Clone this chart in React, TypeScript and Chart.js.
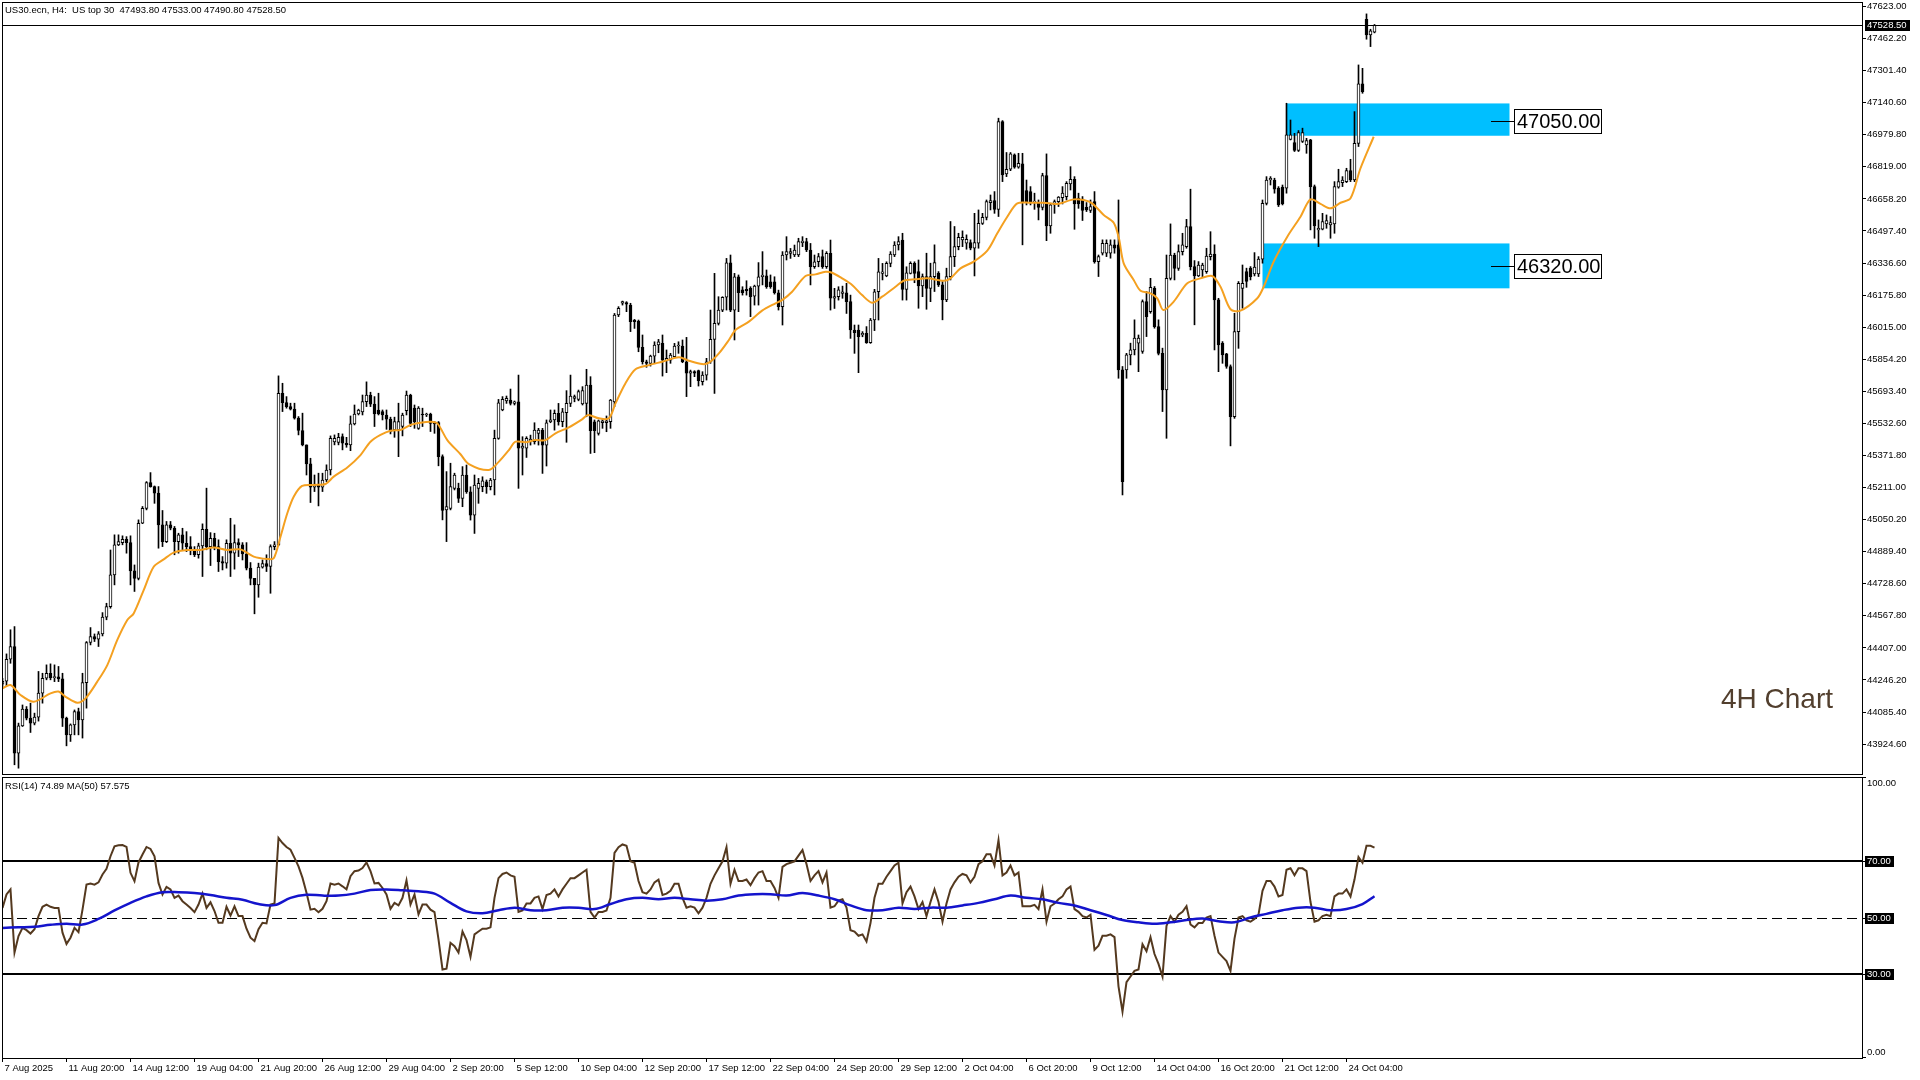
import React, { useEffect, useRef } from 'react';
import { Chart, registerables } from 'chart.js';

Chart.register(...registerables);

const FONT = 'Liberation Sans';

// ---------- price data (H4 candles, US30) ----------
const opens = [
  44225, 44240, 44350, 44414, 43879, 44016, 44100, 44055, 44030, 44060,
  44180, 44255, 44280, 44258, 44262, 44252, 44055, 43971, 44021, 44088,
  44046, 44233, 44434, 44464, 44451, 44477, 44561, 44614, 44773, 44924,
  44935, 44952, 44935, 44793, 44756, 45032, 45107, 45236, 45216, 45183,
  45024, 44940, 45024, 45007, 44940, 44974, 44932, 44915, 44895, 44874,
  44919, 45002, 44915, 44957, 44915, 44840, 44832, 44932, 44882, 44935,
  44924, 44878, 44807, 44756, 44723, 44812, 44830, 44815, 44915, 44924,
  45684, 45637, 45617, 45604, 45559, 45497, 45425, 45330, 45213, 45229,
  45213, 45249, 45299, 45440, 45437, 45467, 45433, 45425, 45530, 45580,
  45590, 45642, 45675, 45629, 45600, 45592, 45575, 45554, 45500, 45500,
  45517, 45597, 45675, 45609, 45508, 45579, 45575, 45580, 45537, 45537,
  45366, 45099, 45107, 45207, 45207, 45157, 45274, 45190, 45073, 45207,
  45215, 45240, 45215, 45249, 45458, 45600, 45646, 45650, 45633, 45641,
  45408, 45408, 45441, 45441, 45483, 45499, 45424, 45541, 45550, 45583,
  45541, 45586, 45633, 45658, 45653, 45630, 45633, 45725, 45541, 45483,
  45536, 45536, 45541, 45641, 46076, 46135, 46138, 46126, 46051, 46046,
  45914, 45842, 45834, 45870, 45926, 45934, 45847, 45850, 45867, 45921,
  45921, 45842, 45784, 45792, 45797, 45742, 45775, 45842, 45954, 46034,
  46101, 46165, 46338, 46101, 46268, 46202, 46205, 46210, 46171, 46221,
  46268, 46272, 46243, 46243, 46188, 46118, 46377, 46385, 46377, 46377,
  46439, 46444, 46402, 46318, 46343, 46369, 46318, 46385, 46160, 46168,
  46185, 46188, 46143, 46001, 46001, 45976, 45984, 45937, 46051, 46193,
  46285, 46272, 46335, 46377, 46427, 46452, 46205, 46285, 46335, 46294,
  46222, 46269, 46210, 46269, 46286, 46227, 46152, 46269, 46369, 46419,
  46453, 46436, 46439, 46411, 46436, 46536, 46566, 46640, 46650, 46606,
  47046, 46784, 46807, 46879, 46817, 46834, 46700, 46695, 46641, 46641,
  46616, 46775, 46523, 46628, 46645, 46665, 46670, 46733, 46757, 46662,
  46657, 46616, 46600, 46645, 46344, 46386, 46386, 46386, 46428, 46428,
  45801, 45801, 45876, 45901, 45935, 45893, 46143, 46093, 46210, 46018,
  45884, 45701, 46260, 46377, 46310, 46394, 46419, 46520, 46319, 46272,
  46302, 46294, 46369, 46382, 46152, 45935, 45881, 45818, 45567, 45993,
  46210, 46294, 46311, 46282, 46282, 46356, 46636, 46753, 46753, 46712,
  46717, 46712, 46957, 46941, 46901, 46946, 46929, 46954, 46720, 46503,
  46506, 46533, 46528, 46533, 46717, 46740, 46745, 46800, 46753, 46937,
  47235, 47559, 47481, 47493.8,
];
const highs = [
  44255, 44377, 44498, 44514, 44030, 44121, 44113, 44130, 44080, 44289,
  44280, 44322, 44327, 44322, 44314, 44280, 44060, 44026, 44096, 44105,
  44280, 44439, 44509, 44477, 44489, 44584, 44631, 44898, 44974, 44974,
  44969, 44965, 44969, 44823, 45049, 45116, 45241, 45286, 45219, 45216,
  45096, 45041, 45041, 45016, 44982, 45007, 44990, 44965, 44915, 44932,
  45029, 45208, 44985, 44982, 44949, 44865, 44949, 45057, 45024, 44954,
  44935, 44935, 44835, 44756, 44832, 44848, 44874, 44924, 44940, 45771,
  45734, 45667, 45634, 45634, 45567, 45584, 45425, 45358, 45274, 45283,
  45283, 45325, 45470, 45475, 45483, 45480, 45463, 45570, 45625, 45604,
  45675, 45741, 45689, 45667, 45684, 45600, 45600, 45564, 45564, 45634,
  45584, 45695, 45679, 45625, 45617, 45609, 45584, 45584, 45542, 45542,
  45375, 45291, 45333, 45283, 45233, 45316, 45324, 45215, 45274, 45257,
  45265, 45249, 45257, 45499, 45653, 45667, 45670, 45705, 45645, 45775,
  45466, 45466, 45474, 45536, 45508, 45508, 45550, 45600, 45600, 45633,
  45608, 45697, 45775, 45675, 45700, 45717, 45804, 45767, 45550, 45550,
  45558, 45570, 45653, 46084, 46118, 46146, 46143, 46135, 46054, 46051,
  45976, 45850, 45875, 45942, 45954, 45976, 45901, 45884, 45934, 45942,
  45951, 45964, 45800, 45797, 45800, 45792, 45859, 46101, 46285, 46168,
  46168, 46360, 46377, 46285, 46277, 46218, 46248, 46218, 46226, 46339,
  46394, 46302, 46277, 46268, 46201, 46394, 46469, 46410, 46427, 46461,
  46469, 46461, 46435, 46377, 46385, 46402, 46394, 46452, 46210, 46218,
  46221, 46235, 46176, 46026, 46026, 45993, 46018, 46059, 46205, 46360,
  46335, 46343, 46394, 46444, 46469, 46486, 46318, 46343, 46343, 46352,
  46282, 46386, 46336, 46428, 46294, 46244, 46311, 46545, 46520, 46486,
  46498, 46478, 46453, 46586, 46603, 46586, 46653, 46678, 46695, 47063,
  47051, 46891, 46891, 46884, 46887, 46887, 46753, 46720, 46687, 46653,
  46787, 46884, 46637, 46653, 46670, 46720, 46745, 46820, 46770, 46687,
  46670, 46640, 46653, 46695, 46377, 46453, 46453, 46453, 46453, 46653,
  45818, 45884, 45935, 46052, 45976, 46152, 46194, 46260, 46219, 46052,
  45910, 46377, 46533, 46386, 46428, 46486, 46556, 46707, 46349, 46344,
  46336, 46411, 46494, 46428, 46160, 45943, 45884, 45826, 46085, 46244,
  46327, 46311, 46319, 46389, 46369, 46653, 46770, 46770, 46762, 46720,
  46728, 47138, 47054, 46987, 47001, 47013, 46962, 46957, 46728, 46553,
  46586, 46578, 46570, 46745, 46807, 46770, 46812, 46857, 47096, 47330,
  47313, 47586, 47509, 47533,
];
const lows = [
  44210, 44217, 44330, 43821, 43804, 44013, 44046, 43983, 44021, 44040,
  44130, 44247, 44247, 44238, 44238, 44013, 43916, 43938, 43971, 43971,
  43955, 44105, 44422, 44439, 44414, 44467, 44548, 44606, 44723, 44920,
  44924, 44882, 44723, 44690, 44748, 45030, 45099, 45213, 45132, 44907,
  44915, 44935, 44999, 44874, 44882, 44899, 44890, 44874, 44865, 44857,
  44765, 44899, 44820, 44899, 44790, 44798, 44807, 44765, 44802, 44865,
  44848, 44798, 44723, 44578, 44661, 44807, 44790, 44681, 44899, 44919,
  45592, 45609, 45600, 45554, 45475, 45420, 45274, 45136, 45191, 45119,
  45191, 45241, 45274, 45425, 45425, 45400, 45413, 45396, 45525, 45575,
  45575, 45617, 45617, 45517, 45575, 45550, 45503, 45480, 45463, 45366,
  45470, 45575, 45517, 45508, 45503, 45517, 45567, 45492, 45483, 45320,
  45049, 44940, 45099, 45199, 45136, 45115, 45182, 45048, 44981, 45132,
  45190, 45182, 45199, 45174, 45453, 45596, 45633, 45625, 45625, 45207,
  45274, 45362, 45424, 45429, 45424, 45282, 45319, 45536, 45499, 45524,
  45516, 45438, 45617, 45641, 45646, 45625, 45566, 45382, 45386, 45474,
  45508, 45491, 45508, 45617, 46068, 46126, 46093, 45993, 46009, 45892,
  45830, 45814, 45820, 45834, 45887, 45770, 45787, 45834, 45867, 45884,
  45837, 45667, 45717, 45767, 45720, 45725, 45750, 45834, 45683, 46026,
  46093, 46101, 46093, 45951, 46093, 46176, 46176, 46068, 46126, 46126,
  46227, 46210, 46210, 46181, 46101, 46026, 46352, 46360, 46369, 46369,
  46419, 46394, 46227, 46310, 46318, 46310, 46310, 46101, 46109, 46151,
  46160, 46084, 45959, 45884, 45787, 45967, 45934, 45934, 45998, 46051,
  46252, 46268, 46318, 46369, 46402, 46151, 46151, 46282, 46238, 46110,
  46168, 46105, 46143, 46194, 46219, 46052, 46143, 46252, 46319, 46403,
  46419, 46406, 46403, 46272, 46411, 46530, 46553, 46603, 46586, 46570,
  46745, 46770, 46800, 46812, 46812, 46428, 46628, 46628, 46606, 46553,
  46603, 46449, 46486, 46586, 46620, 46633, 46653, 46703, 46506, 46611,
  46550, 46595, 46590, 46336, 46269, 46377, 46369, 46361, 46386, 45759,
  45174, 45759, 45826, 45876, 45792, 45884, 45968, 46085, 46010, 45876,
  45592, 45458, 46252, 46252, 46300, 46377, 46411, 46302, 46027, 46269,
  46265, 46285, 46352, 45901, 45792, 45834, 45809, 45420, 45558, 45909,
  46110, 46215, 46252, 46272, 46269, 46336, 46628, 46728, 46687, 46620,
  46628, 46687, 46954, 46896, 46896, 46941, 46887, 46503, 46461, 46419,
  46503, 46511, 46461, 46486, 46712, 46720, 46740, 46745, 46745, 46921,
  47188, 47459, 47422, 47490.8,
];
const closes = [
  44240, 44350, 44414, 43879, 44016, 44100, 44055, 44030, 44060, 44180,
  44255, 44280, 44258, 44262, 44252, 44055, 43971, 44021, 44088, 44046,
  44233, 44434, 44464, 44451, 44477, 44561, 44614, 44773, 44924, 44940,
  44952, 44935, 44793, 44756, 45032, 45107, 45236, 45216, 45183, 45024,
  44940, 45024, 45007, 44940, 44974, 44932, 44915, 44895, 44874, 44919,
  45002, 44915, 44957, 44915, 44840, 44832, 44932, 44882, 44935, 44924,
  44878, 44807, 44756, 44723, 44812, 44830, 44815, 44915, 44924, 45684,
  45637, 45617, 45604, 45559, 45497, 45425, 45330, 45213, 45229, 45213,
  45249, 45299, 45458, 45458, 45463, 45433, 45425, 45530, 45580, 45600,
  45642, 45675, 45629, 45580, 45580, 45575, 45554, 45492, 45542, 45542,
  45575, 45675, 45533, 45542, 45609, 45575, 45576, 45533, 45530, 45366,
  45096, 45116, 45216, 45274, 45157, 45274, 45190, 45073, 45224, 45232,
  45245, 45215, 45249, 45458, 45636, 45653, 45658, 45633, 45641, 45408,
  45419, 45458, 45454, 45499, 45499, 45424, 45536, 45550, 45583, 45541,
  45591, 45633, 45670, 45667, 45692, 45697, 45725, 45496, 45496, 45546,
  45546, 45546, 45650, 46076, 46110, 46143, 46130, 46043, 46043, 45914,
  45842, 45834, 45870, 45926, 45942, 45850, 45859, 45875, 45921, 45926,
  45842, 45784, 45792, 45784, 45747, 45775, 45842, 45954, 46034, 46101,
  46165, 46338, 46101, 46268, 46188, 46188, 46198, 46168, 46221, 46268,
  46277, 46218, 46218, 46188, 46118, 46377, 46394, 46394, 46402, 46444,
  46447, 46402, 46318, 46343, 46369, 46318, 46385, 46160, 46168, 46202,
  46193, 46143, 46001, 45988, 45967, 45984, 45937, 46051, 46193, 46293,
  46293, 46335, 46382, 46427, 46444, 46205, 46288, 46335, 46285, 46222,
  46269, 46210, 46269, 46339, 46227, 46152, 46269, 46369, 46419, 46466,
  46466, 46456, 46411, 46439, 46536, 46566, 46645, 46650, 46606, 47046,
  46779, 46807, 46884, 46817, 46837, 46645, 46645, 46645, 46648, 46616,
  46775, 46523, 46628, 46645, 46667, 46687, 46737, 46757, 46633, 46633,
  46600, 46603, 46620, 46344, 46369, 46436, 46436, 46428, 46411, 45801,
  45241, 45876, 45901, 45960, 45960, 46143, 46068, 46215, 46018, 45884,
  45701, 46260, 46377, 46310, 46394, 46428, 46520, 46319, 46272, 46327,
  46327, 46372, 46382, 46152, 45926, 45876, 45818, 45567, 45993, 46235,
  46235, 46244, 46269, 46316, 46356, 46636, 46753, 46762, 46707, 46628,
  46633, 46979, 46979, 46901, 46991, 46991, 46951, 46720, 46523, 46511,
  46545, 46550, 46540, 46720, 46745, 46753, 46800, 46753, 46937, 47235,
  47196, 47481, 47501, 47528.5,
];

// ---------- moving average on price ----------
const maBars = [
  0, 2, 4.5, 7.8, 12, 14, 16, 18.7, 20.75, 23.7, 26.2, 28.7, 31.2, 32.8, 35.3, 37.8,
  40.3, 42.8, 46.2, 49.5, 52.8, 56.2, 59.5, 62.8, 66.2, 67.8, 69.5, 71.2, 72.8, 74.9,
  77.8, 80.75, 82.8, 86.2, 89.5, 92, 94.5, 97, 99.5, 102, 104.5, 107, 108.7, 111.2,
  114.5, 116.6, 121.6, 124.1, 126.6, 128.25, 130.75, 133.25, 135.75, 138.25, 141.6,
  144.9, 146.4, 149.1, 151.6, 153.25, 155.75, 158.25, 161.6, 164.9, 169.1, 171.6,
  174.9, 176.6, 179.1, 181.6, 183.25, 186.6, 189.9, 193.25, 194.9, 197.4, 200.75,
  203.25, 205.75, 207.4, 209.9, 212.4, 214.9, 217.4, 219.9, 223.25, 225.3, 228.25,
  231.2, 235.3, 237, 239.5, 242.8, 246.2, 248.7, 251.2, 253.7, 257, 260.3, 263.7,
  267.8, 270.3, 272.4, 275.3, 277.8, 279.1, 280.3, 282.8, 284.5, 287, 288.7, 290.2,
  292.8, 296.2, 299.5, 302.4, 304.5, 307, 309.5, 313.7, 315.3, 317.8, 321.2, 324.5,
  327, 329.5, 332, 334.5, 337, 339.5, 342.8,
];
const maValues = [
  44204, 44221, 44171, 44137, 44179, 44188, 44159, 44132, 44154, 44238, 44321, 44447, 44547, 44580, 44697, 44814,
  44851, 44885, 44898, 44898, 44911, 44898, 44901, 44865, 44853, 44856, 44965, 45082, 45165, 45219,
  45224, 45229, 45266, 45312, 45374, 45441, 45475, 45496, 45500, 45525, 45536, 45541, 45533, 45449,
  45378, 45329, 45299, 45341, 45399, 45441, 45438, 45449, 45449, 45483, 45513,
  45553, 45575, 45558, 45558, 45633, 45734, 45804, 45825, 45842, 45864, 45847,
  45830, 45837, 45884, 45951, 46001, 46043, 46098, 46135, 46151, 46193, 46272,
  46280, 46293, 46288, 46260, 46227, 46176, 46138, 46168, 46218, 46248, 46255,
  46260, 46248, 46260, 46310, 46344, 46399, 46486, 46569, 46636, 46639, 46639, 46633,
  46656, 46653, 46636, 46578, 46539, 46461, 46335, 46252, 46198, 46185, 46160, 46101,
  46143, 46235, 46260, 46272, 46218, 46105, 46098, 46160, 46218, 46344, 46469, 46569,
  46656, 46633, 46611, 46639, 46661, 46812, 46970,
];

// ---------- RSI(14) and its MA(50) ----------
const rsiValues = [
  53.4, 58.2, 60, 37.5, 43.4, 46.3, 45.5, 44.3, 45.8, 50.5,
  53.8, 54.6, 53.8, 53.4, 53.4, 44.6, 40.6, 42.8, 46.3, 44.8,
  52.8, 61.7, 62.1, 61.7, 62.5, 65.3, 67.3, 71.8, 75.3, 75.7,
  75.8, 75.1, 65.9, 62.9, 69.6, 72.4, 75.1, 74.4, 71.8, 62.3,
  58.2, 60.9, 60, 57, 57.8, 55.8, 54.6, 53.4, 51.9, 54.6,
  58.5, 53.4, 55.4, 52.3, 48.1, 48.1, 53.8, 50.7, 54, 50.5,
  50.5, 46, 42.8, 41.6, 45.8, 48.1, 47.9, 54.6, 55, 78.3,
  76.5, 75.1, 74.1, 71.2, 68.2, 64.1, 58.8, 52.8, 53.1, 51.9,
  53.1, 55.8, 62.1, 61.7, 62.1, 61.1, 60, 64.7, 66.5, 66.7,
  67.6, 69.6, 66.5, 62.1, 62.3, 60.5, 58.2, 53.1, 55.2, 54.3,
  57, 63.2, 54.6, 58.2, 51.1, 54.6, 54.6, 52.8, 51.9, 42.2,
  31.5, 31.8, 41, 39.8, 37.5, 45, 42, 36, 44, 45,
  46, 46, 46.5, 57, 64, 65.5, 66, 65, 64.5, 52,
  52.5, 55, 55, 57, 57.5, 53, 58, 58.5, 60, 57.5,
  60, 62, 64, 64, 65, 66, 67, 52, 50, 52,
  52, 52.5, 57, 73, 75, 76, 75.5, 70, 69.5, 63,
  59, 58.5, 60, 62.5, 63.5, 58, 58.5, 59.5, 62, 62,
  57, 53.5, 54, 53.5, 51.5, 53.5, 57, 62, 65, 67.5,
  70, 75, 62, 67, 63, 63, 63.5, 61.5, 64, 66,
  66.5, 63, 63, 60.5, 57, 68, 69, 69.5, 70, 72,
  74, 69, 63, 65, 66.5, 62.5, 66, 53.5, 54, 56,
  56.5, 53.5, 45.5, 45, 43.5, 44, 41.5, 48, 57, 62,
  62, 64.5, 66.5, 68.5, 69.5, 55, 59, 61, 57.5, 53,
  55.5, 50.5, 55.5, 60, 55.5, 48.5, 55, 60, 62.5, 64.5,
  65.5, 65, 62.5, 64.5, 69, 70, 72.5, 72.5, 68.5, 77.5,
  65, 66, 68.5, 65, 66, 54, 54, 54, 54.5, 53,
  60, 48.5, 54, 55, 56.5, 57.5, 60, 61, 53, 52,
  50.5, 50, 51, 38.5, 40, 43.5, 43.5, 44, 43, 25.5,
  16.5, 27, 29, 31, 31.5, 40.5, 38, 43, 37, 33.5,
  29, 47, 50.5, 48.5, 51, 52, 54, 47.5, 46.5, 48,
  48, 50, 50.5, 43.5, 37.5, 36, 34.5, 31, 42.5, 50,
  50.5, 49, 48.5, 49.5, 51, 59.5, 63, 63, 61, 57.5,
  58, 67, 67.5, 65, 67.5, 67.5, 66.5, 55.5, 48.5, 49,
  50.5, 51, 50.5, 57.5, 58.5, 58.5, 60, 57.5, 63.5, 71.5,
  69.5, 75.5, 75.5, 74.89,
];
const rsiMaBars = [
  0, 4, 8, 12, 16, 20, 24, 28, 32, 36, 40, 44, 48, 52, 56, 60, 64, 68, 72, 76, 80, 84,
  88, 92, 96, 100, 104, 108, 112, 116, 120, 124, 128, 132, 136, 140, 144, 148, 152, 156,
  160, 164, 168, 172, 176, 180, 184, 188, 192, 196, 200, 204, 208, 212, 216, 220, 224,
  228, 232, 236, 240, 244, 248, 252, 256, 260, 264, 268, 272, 276, 280, 284, 288, 292,
  296, 300, 304, 308, 312, 316, 320, 324, 328, 332, 336, 340, 343,
];
const rsiMaValues = [
  46.3, 46.5, 46.7, 47.4, 47.8, 47.5, 49.5, 52.5, 55.2, 57.5, 59, 59, 58.7, 58, 57, 56.3, 54.8, 54.4, 57, 58.1, 57.8, 57.8,
  58.5, 59.8, 60, 59.7, 59.3, 58.5, 55.2, 52.2, 51.5, 52.6, 53.5, 52.6, 52.6, 53.5, 53.5, 53, 54.8, 56.5,
  57, 56.5, 57, 56.5, 56, 56.5, 57.8, 58.3, 58.3, 57.8, 58.7, 57.8, 56.5, 54.3, 52.6, 52.6, 53.5,
  53, 53.5, 53.5, 54.3, 55.2, 56.5, 57.8, 57, 56.5, 55.2, 54.3, 52.6, 50.9, 49.1, 48.3, 47.8, 48.3,
  49.1, 49.6, 48.7, 48.3, 50, 51.3, 52.6, 53.5, 53.5, 52.6, 53, 54.8, 57.575,
];

// ---------- axes / annotations ----------
const priceTicks = [
  47623.0, 47462.2, 47301.4, 47140.6, 46979.8, 46819.0, 46658.2, 46497.4, 46336.6, 46175.8,
  46015.0, 45854.2, 45693.4, 45532.6, 45371.8, 45211.0, 45050.2, 44889.4, 44728.6, 44567.8,
  44407.0, 44246.2, 44085.4, 43924.6,
];
const xTickBars = [0, 16, 32, 48, 64, 80, 96, 112, 128, 144, 160, 176, 192, 208, 224, 240, 256, 272, 288, 304, 320, 336];
const xTickLabels = [
  '7 Aug 2025', '11 Aug 20:00', '14 Aug 12:00', '19 Aug 04:00', '21 Aug 20:00', '26 Aug 12:00',
  '29 Aug 04:00', '2 Sep 20:00', '5 Sep 12:00', '10 Sep 04:00', '12 Sep 20:00', '17 Sep 12:00',
  '22 Sep 04:00', '24 Sep 20:00', '29 Sep 12:00', '2 Oct 04:00', '6 Oct 20:00', '9 Oct 12:00',
  '14 Oct 04:00', '16 Oct 20:00', '21 Oct 12:00', '24 Oct 04:00',
];
const zoneLabels = ['47050.00', '46320.00'];
const zoneLevels = [47050, 46320];
const zoneHighs = [47137, 46435];
const zoneLows = [46975, 46210];
const zoneStarts = [321, 315];
const zoneEnds = [376.75, 376.75];
const rsiLevels = [70, 50, 30];
const rsiAxisTicks = [100, 70, 50, 30, 0];
const lastPrice = 47528.5;
const headerText = 'US30.ecn, H4:  US top 30  47493.80 47533.00 47490.80 47528.50';
const rsiHeader = 'RSI(14) 74.89 MA(50) 57.575';
const chartTitle = '4H Chart';

const X_MIN = -0.125;
const X_MAX = 464.875;
const PRICE_MIN = 43774.8;
const PRICE_MAX = 47645.6;

const mainOverlay = {
  id: 'mainOverlay',
  beforeDatasetsDraw(chart: any) {
    const { ctx, chartArea: a, scales } = chart;
    const x = scales.x, y = scales.y;
    ctx.save();
    ctx.beginPath();
    ctx.rect(a.left, a.top, a.right - a.left, a.bottom - a.top);
    ctx.clip();
    for (let k = 0; k < zoneLabels.length; k++) {
      const x0 = x.getPixelForValue(zoneStarts[k]);
      const x1 = x.getPixelForValue(zoneEnds[k]);
      const y0 = y.getPixelForValue(zoneHighs[k]);
      const y1 = y.getPixelForValue(zoneLows[k]);
      ctx.fillStyle = '#00BFFF';
      ctx.fillRect(x0, y0, x1 - x0, y1 - y0);
    }
    const yb = Math.round(y.getPixelForValue(lastPrice)) + 0.5;
    ctx.strokeStyle = '#000';
    ctx.lineWidth = 1;
    ctx.beginPath();
    ctx.moveTo(a.left, yb);
    ctx.lineTo(a.right, yb);
    ctx.stroke();
    ctx.restore();
  },
  afterDraw(chart: any) {
    const { ctx, chartArea: a, scales } = chart;
    const x = scales.x, y = scales.y;
    ctx.save();
    // zone price labels
    for (let k = 0; k < zoneLabels.length; k++) {
      const xe = Math.round(x.getPixelForValue(zoneEnds[k]));
      const yl = Math.round(y.getPixelForValue(zoneLevels[k])) + 0.5;
      ctx.strokeStyle = '#000';
      ctx.lineWidth = 1;
      ctx.beginPath();
      ctx.moveTo(xe - 19, yl);
      ctx.lineTo(xe + 4, yl);
      ctx.stroke();
      const bx = xe + 4, bw = 88, bh = 25, by = Math.round(yl - 13);
      ctx.fillStyle = '#fff';
      ctx.fillRect(bx, by, bw, bh);
      ctx.strokeRect(bx + 0.5, by + 0.5, bw - 1, bh - 1);
      ctx.fillStyle = '#000';
      ctx.font = `20px "${FONT}"`;
      ctx.textAlign = 'left';
      ctx.textBaseline = 'middle';
      ctx.fillText(zoneLabels[k], bx + 3, by + bh / 2 + 1);
    }
    // frame
    ctx.strokeStyle = '#000';
    ctx.lineWidth = 1;
    ctx.strokeRect(a.left + 0.5, a.top + 0.5, a.right - a.left, a.bottom - a.top);
    // header
    ctx.fillStyle = '#000';
    ctx.font = `9.5px "${FONT}"`;
    ctx.textAlign = 'left';
    ctx.textBaseline = 'middle';
    ctx.fillText(headerText, a.left + 3, 10);
    // title
    ctx.fillStyle = '#523f2e';
    ctx.font = `28px "${FONT}"`;
    ctx.fillText(chartTitle, a.right - 141, 700);
    // current price label on the axis
    const yp = Math.round(y.getPixelForValue(lastPrice));
    ctx.fillStyle = '#000';
    ctx.fillRect(a.right + 3, yp - 5, 45, 11);
    ctx.fillStyle = '#fff';
    ctx.font = `9.5px "${FONT}"`;
    ctx.fillText(lastPrice.toFixed(2), a.right + 5, yp + 0.5);
    ctx.restore();
  },
};

const rsiOverlay = {
  id: 'rsiOverlay',
  beforeDatasetsDraw(chart: any) {
    const { ctx, chartArea: a, scales } = chart;
    const y = scales.y;
    ctx.save();
    ctx.strokeStyle = '#000';
    for (const lv of rsiLevels) {
      const dashed = lv === 50;
      const yy = dashed ? Math.round(y.getPixelForValue(lv)) + 0.5 : Math.round(y.getPixelForValue(lv));
      ctx.lineWidth = dashed ? 1 : 2;
      ctx.setLineDash(dashed ? [10, 5] : []);
      ctx.beginPath();
      ctx.moveTo(a.left, yy);
      ctx.lineTo(a.right, yy);
      ctx.stroke();
    }
    ctx.restore();
  },
  afterDraw(chart: any) {
    const { ctx, chartArea: a, scales } = chart;
    const y = scales.y;
    ctx.save();
    ctx.strokeStyle = '#000';
    ctx.lineWidth = 1;
    ctx.strokeRect(a.left + 0.5, a.top + 0.5, a.right - a.left, a.bottom - a.top);
    ctx.fillStyle = '#000';
    ctx.font = `9.5px "${FONT}"`;
    ctx.textAlign = 'left';
    ctx.textBaseline = 'middle';
    ctx.fillText(rsiHeader, a.left + 3, a.top + 9);
    for (const v of rsiAxisTicks) {
      const raw = y.getPixelForValue(v);
      const ty = Math.min(Math.max(Math.round(raw) + 0.5, a.top + 0.5), a.bottom - 0.5);
      ctx.beginPath();
      ctx.moveTo(a.right, ty);
      ctx.lineTo(a.right + 4, ty);
      ctx.stroke();
      const cy = Math.min(Math.max(raw, a.top + 6), a.bottom - 6);
      const txt = v.toFixed(2);
      if (rsiLevels.indexOf(v) >= 0) {
        ctx.fillStyle = '#000';
        ctx.fillRect(a.right + 3, Math.round(cy) - 5, 29, 11);
        ctx.fillStyle = '#fff';
      } else {
        ctx.fillStyle = '#000';
      }
      ctx.fillText(txt, a.right + 5, cy + 0.5);
    }
    ctx.restore();
  },
};

function MainPanel() {
  const ref = useRef<HTMLCanvasElement>(null);
  useEffect(() => {
    const canvas = ref.current;
    if (!canvas) return;
    const wickData = highs.map((h, i) => ({ x: i, y: [lows[i], h] }));
    const bodyData = opens.map((o, i) => ({ x: i, y: [o, closes[i]] }));
    const bodyColors = opens.map((o, i) => (closes[i] >= o ? '#ffffff' : '#000000'));
    const maData = maBars.map((b, i) => ({ x: b, y: maValues[i] }));
    const chart = new Chart(canvas, {
      type: 'bar',
      data: {
        datasets: [
          {
            type: 'line',
            data: maData,
            borderColor: '#F4A020',
            borderWidth: 2,
            pointRadius: 0,
            tension: 0.3,
            order: 0,
          } as any,
          {
            type: 'bar',
            data: bodyData,
            backgroundColor: bodyColors,
            borderColor: '#000000',
            borderWidth: 1,
            borderSkipped: false,
            barThickness: 3,
            grouped: false,
            minBarLength: 1,
            order: 1,
          } as any,
          {
            type: 'bar',
            data: wickData,
            backgroundColor: '#000000',
            borderWidth: 0,
            barThickness: 1,
            grouped: false,
            order: 2,
          } as any,
        ],
      },
      options: {
        responsive: false,
        animation: false,
        devicePixelRatio: 1,
        layout: { padding: { left: 2, top: 2, right: 0, bottom: 2 } },
        plugins: { legend: { display: false }, tooltip: { enabled: false } },
        scales: {
          x: { type: 'linear', display: false, min: X_MIN, max: X_MAX, offset: false, grid: { offset: false } },
          y: {
            type: 'linear',
            position: 'right',
            min: PRICE_MIN,
            max: PRICE_MAX,
            afterBuildTicks: (s: any) => {
              s.ticks = priceTicks.map((v) => ({ value: v }));
            },
            afterFit: (s: any) => {
              s.width = 58;
              s.paddingTop = 0;
              s.paddingBottom = 0;
            },
            ticks: {
              autoSkip: false,
              padding: 1,
              color: '#000',
              font: { family: FONT, size: 9.5 },
              callback: (v: any) => Number(v).toFixed(2),
            },
            grid: { drawOnChartArea: false, drawTicks: true, tickLength: 4, color: '#000' },
            border: { display: true, color: '#000' },
          },
        },
      } as any,
      plugins: [mainOverlay],
    });
    return () => chart.destroy();
  }, []);
  return (
    <canvas
      ref={ref}
      width={1920}
      height={776}
      style={{ position: 'absolute', left: 0, top: 0, width: 1920, height: 776, display: 'block' }}
    />
  );
}

function RsiPanel() {
  const ref = useRef<HTMLCanvasElement>(null);
  useEffect(() => {
    const canvas = ref.current;
    if (!canvas) return;
    const chart = new Chart(canvas, {
      type: 'line',
      data: {
        datasets: [
          {
            data: rsiMaValues.map((v, i) => ({ x: rsiMaBars[i], y: v })),
            borderColor: '#1414CC',
            borderWidth: 2.5,
            pointRadius: 0,
            tension: 0.35,
            order: 0,
          },
          {
            data: rsiValues.map((v, i) => ({ x: i, y: v })),
            borderColor: '#54391F',
            borderWidth: 2,
            pointRadius: 0,
            tension: 0,
            order: 1,
          },
        ],
      },
      options: {
        responsive: false,
        animation: false,
        devicePixelRatio: 1,
        layout: { padding: { left: 2, top: 0, right: 58, bottom: 0 } },
        plugins: { legend: { display: false }, tooltip: { enabled: false } },
        scales: {
          x: {
            type: 'linear',
            position: 'bottom',
            min: X_MIN,
            max: X_MAX,
            offset: false,
            afterBuildTicks: (s: any) => {
              s.ticks = xTickBars.map((v) => ({ value: v }));
            },
            afterFit: (s: any) => {
              s.height = 22;
              s.paddingLeft = 0;
              s.paddingRight = 0;
            },
            ticks: {
              autoSkip: false,
              maxRotation: 0,
              minRotation: 0,
              align: 'start',
              labelOffset: 2,
              padding: 1,
              color: '#000',
              font: { family: FONT, size: 9.5 },
              callback: (v: any) => {
                const k = xTickBars.indexOf(Number(v));
                return k >= 0 ? xTickLabels[k] : '';
              },
            },
            grid: { drawOnChartArea: false, drawTicks: true, tickLength: 4, color: '#000', offset: false },
            border: { display: true, color: '#000' },
          },
          y: { type: 'linear', display: false, min: 0, max: 100 },
        },
      } as any,
      plugins: [rsiOverlay],
    });
    return () => chart.destroy();
  }, []);
  return (
    <canvas
      ref={ref}
      width={1920}
      height={303}
      style={{ position: 'absolute', left: 0, top: 777, width: 1920, height: 303, display: 'block' }}
    />
  );
}

export default function App() {
  return (
    <div
      style={{
        position: 'fixed',
        left: 0,
        top: 0,
        width: 1920,
        height: 1080,
        background: '#ffffff',
        overflow: 'hidden',
      }}
    >
      <MainPanel />
      <RsiPanel />
    </div>
  );
}
